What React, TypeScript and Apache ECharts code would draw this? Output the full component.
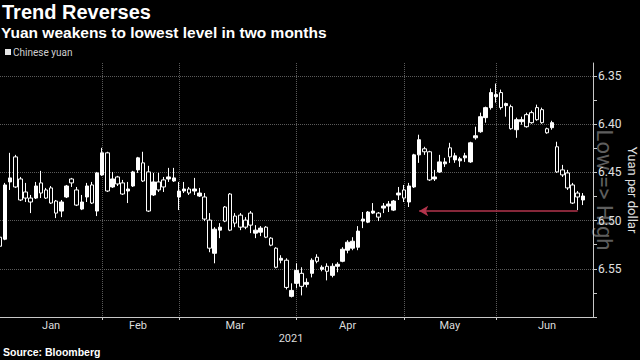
import React, { useEffect, useRef } from 'react';
import * as echarts from 'echarts';

// ---- data ----
const months = ['Jan', 'Feb', 'Mar', 'Apr', 'May', 'Jun'];
const slotsPerMonth = [20, 15, 23, 21, 18, 20];

// [open, close, low, high]
const janOHLC = [
  [6.5266, 6.5172, 6.5151, 6.5589], [6.4630, 6.5193, 6.4609, 6.5203], [6.4557, 6.4599, 6.4297, 6.4682],
  [6.4651, 6.4339, 6.4318, 6.4661], [6.4786, 6.4568, 6.4547, 6.4797], [6.4766, 6.4703, 6.4609, 6.4807],
  [6.4807, 6.4766, 6.4734, 6.4922], [6.4641, 6.4766, 6.4599, 6.4776], [6.4714, 6.4609, 6.4484, 6.4766],
  [6.4766, 6.4682, 6.4661, 6.4776], [6.4818, 6.4661, 6.4641, 6.4828], [6.4922, 6.4797, 6.4786, 6.4974],
  [6.4807, 6.4901, 6.4786, 6.4964], [6.4641, 6.4755, 6.4630, 6.4766], [6.4609, 6.4568, 6.4557, 6.4651],
  [6.4839, 6.4682, 6.4651, 6.4849], [6.4807, 6.4880, 6.4734, 6.4891], [6.4641, 6.4755, 6.4609, 6.4807],
  [6.4818, 6.4630, 6.4599, 6.4828], [6.4505, 6.4901, 6.4495, 6.4953],
];
const febOHLC = [
  [6.4297, 6.4526, 6.4245, 6.4536], [6.4693, 6.4297, 6.4286, 6.4703], [6.4568, 6.4651, 6.4495, 6.4661],
  [6.4620, 6.4547, 6.4536, 6.4641], [6.4724, 6.4609, 6.4578, 6.4734], [6.4672, 6.4693, 6.4599, 6.4818],
  [6.4495, 6.4641, 6.4484, 6.4651], [6.4349, 6.4474, 6.4339, 6.4505], [6.4589, 6.4401, 6.4286, 6.4599],
  [6.4901, 6.4495, 6.4432, 6.4911], [6.4599, 6.4734, 6.4505, 6.4745], [6.4682, 6.4599, 6.4505, 6.4703],
  [6.4651, 6.4578, 6.4547, 6.4703], [6.4547, 6.4568, 6.4453, 6.4599], [6.4557, 6.4589, 6.4453, 6.4599],
];
const marOHLC = [
  [6.4693, 6.4755, 6.4599, 6.4891], [6.4672, 6.4693, 6.4599, 6.4714], [6.4714, 6.4672, 6.4651, 6.4734],
  [6.4672, 6.4693, 6.4557, 6.4734], [6.4714, 6.4745, 6.4661, 6.4755], [6.4984, 6.4755, 6.4714, 6.5005],
  [6.5286, 6.4995, 6.4922, 6.5328], [6.5089, 6.5339, 6.5068, 6.5443], [6.5068, 6.5099, 6.5026, 6.5182],
  [6.5005, 6.4859, 6.4849, 6.5016], [6.5099, 6.4724, 6.4714, 6.5109], [6.5026, 6.4953, 6.4922, 6.5068],
  [6.5068, 6.4943, 6.4922, 6.5099], [6.5068, 6.4995, 6.4964, 6.5089], [6.5047, 6.4922, 6.4901, 6.5130],
  [6.5099, 6.5130, 6.5047, 6.5182], [6.5078, 6.5120, 6.5057, 6.5161], [6.5172, 6.5068, 6.5057, 6.5182],
  [6.5255, 6.5182, 6.5172, 6.5266], [6.5484, 6.5286, 6.5276, 6.5495], [6.5391, 6.5411, 6.5359, 6.5443],
  [6.5693, 6.5411, 6.5391, 6.5714], [6.5724, 6.5786, 6.5651, 6.5797],
];
const aprOHLC = [
  [6.5516, 6.5651, 6.5443, 6.5703], [6.5682, 6.5547, 6.5484, 6.5776], [6.5641, 6.5661, 6.5599, 6.5693],
  [6.5411, 6.5547, 6.5391, 6.5589], [6.5422, 6.5380, 6.5349, 6.5443], [6.5484, 6.5505, 6.5464, 6.5526],
  [6.5526, 6.5474, 6.5443, 6.5620], [6.5474, 6.5568, 6.5443, 6.5589], [6.5453, 6.5474, 6.5432, 6.5536],
  [6.5297, 6.5422, 6.5276, 6.5432], [6.5224, 6.5307, 6.5203, 6.5339], [6.5214, 6.5286, 6.5172, 6.5307],
  [6.5109, 6.5276, 6.5057, 6.5307], [6.4984, 6.5005, 6.4911, 6.5078], [6.4911, 6.5016, 6.4901, 6.5026],
  [6.4901, 6.4922, 6.4818, 6.4932], [6.4964, 6.4922, 6.4911, 6.5005], [6.4849, 6.4870, 6.4818, 6.4922],
  [6.4828, 6.4849, 6.4797, 6.4911], [6.4797, 6.4891, 6.4786, 6.4901], [6.4714, 6.4734, 6.4651, 6.4786],
];
const mayOHLC = [
  [6.4766, 6.4682, 6.4630, 6.4807], [6.4641, 6.4807, 6.4609, 6.4859], [6.4318, 6.4651, 6.4307, 6.4661],
  [6.4161, 6.4318, 6.4109, 6.4401], [6.4286, 6.4255, 6.4234, 6.4318], [6.4578, 6.4286, 6.4276, 6.4589],
  [6.4547, 6.4568, 6.4474, 6.4589], [6.4391, 6.4495, 6.4318, 6.4505], [6.4391, 6.4411, 6.4349, 6.4443],
  [6.4339, 6.4245, 6.4193, 6.4401], [6.4328, 6.4370, 6.4297, 6.4401], [6.4359, 6.4380, 6.4339, 6.4443],
  [6.4328, 6.4349, 6.4297, 6.4391], [6.4193, 6.4391, 6.4182, 6.4401], [6.4120, 6.4141, 6.4026, 6.4161],
  [6.3922, 6.4078, 6.3880, 6.4089], [6.3828, 6.3932, 6.3818, 6.3984], [6.3672, 6.3828, 6.3630, 6.3849],
];
const junOHLC = [
  [6.3693, 6.3714, 6.3578, 6.3776], [6.3828, 6.3672, 6.3641, 6.3849], [6.3786, 6.3807, 6.3776, 6.3922],
  [6.4047, 6.3818, 6.3797, 6.4057], [6.3953, 6.4057, 6.3932, 6.4141], [6.3953, 6.3974, 6.3922, 6.4005],
  [6.4026, 6.3901, 6.3880, 6.4036], [6.3984, 6.3880, 6.3859, 6.3995], [6.3953, 6.3828, 6.3797, 6.3964],
  [6.3984, 6.3849, 6.3828, 6.3995], [6.4089, 6.4047, 6.4036, 6.4099], [6.3984, 6.4036, 6.3964, 6.4057],
  [6.4495, 6.4234, 6.4182, 6.4505], [6.4526, 6.4474, 6.4422, 6.4547], [6.4661, 6.4505, 6.4474, 6.4682],
  [6.4818, 6.4630, 6.4609, 6.4828], [6.4755, 6.4714, 6.4693, 6.4891], [6.4745, 6.4786, 6.4714, 6.4839],
];

const yLabelValues = [6.35, 6.4, 6.45, 6.5, 6.55];
const yTickValues = [6.35, 6.375, 6.4, 6.425, 6.45, 6.475, 6.5, 6.525, 6.55, 6.575, 6.6];
const yMin = 6.3365;
const yMax = 6.6;
const arrowLevel = 6.49;
const arrowFromIdx = 113;
const arrowToIdx = 82;

// ---- derived ----
const categories: string[] = [];
const monthStarts: number[] = [];
const monthLabelIdx: Record<number, string> = {};
months.forEach((m, mi) => {
  monthStarts.push(categories.length);
  monthLabelIdx[categories.length + Math.floor(slotsPerMonth[mi] / 2)] = m;
  for (let k = 0; k < slotsPerMonth[mi]; k++) categories.push(`${m}-${k + 1}`);
});
const ohlc = [...janOHLC, ...febOHLC, ...marOHLC, ...aprOHLC, ...mayOHLC, ...junOHLC];

const isBoundary = (i: number) => i > 0 && monthStarts.indexOf(i) >= 0;

const option: any = {
  animation: false,
  backgroundColor: '#000',
  grid: { left: 0, right: 47, top: 63, bottom: 43 },
  xAxis: {
    type: 'category',
    data: categories,
    boundaryGap: false,
    axisLine: { show: true, lineStyle: { color: '#c8c8c8', width: 1 } },
    axisTick: { show: true, length: 3, interval: (i: number) => isBoundary(i), lineStyle: { color: '#c8c8c8' } },
    axisLabel: {
      interval: (i: number) => monthLabelIdx[i] !== undefined,
      formatter: (v: string) => v.split('-')[0],
      color: '#dcdcdc',
      fontFamily: 'Roboto',
      fontSize: 11,
      margin: 3,
    },
    splitLine: {
      show: true,
      interval: (i: number) => isBoundary(i),
      lineStyle: { color: '#5a5a5a', type: 'dotted', width: 1 },
    },
  },
  yAxis: {
    type: 'value',
    position: 'right',
    inverse: true,
    min: yMin,
    max: yMax,
    scale: true,
    axisLine: { show: true, lineStyle: { color: '#c8c8c8', width: 1 } },
    axisTick: { show: true, length: 4, customValues: yTickValues, lineStyle: { color: '#c8c8c8' } },
    axisLabel: {
      customValues: yLabelValues,
      formatter: (v: number) => v.toFixed(2),
      color: '#e0e0e0',
      fontFamily: 'Roboto',
      fontSize: 12,
      margin: 5,
    },
    splitLine: { show: false },
  },
  series: [
    {
      type: 'line',
      data: [],
      z: 1,
      silent: true,
      markLine: {
        silent: true,
        z: 1,
        symbol: ['none', 'none'],
        label: { show: false },
        lineStyle: { color: '#5a5a5a', type: 'dotted', width: 1 },
        data: yLabelValues.map((v) => ({ yAxis: v })),
      },
    },
    {
      type: 'candlestick',
      data: ohlc,
      z: 5,
      barWidth: 4,
      itemStyle: {
        color: '#ffffff',
        color0: '#000000',
        borderColor: '#ffffff',
        borderColor0: '#ffffff',
        borderWidth: 1,
      },
    },
    {
      type: 'line',
      data: [],
      z: 6,
      silent: true,
      markLine: {
        silent: true,
        z: 6,
        symbol: ['none', 'arrow'],
        symbolSize: [8, 9],
        label: { show: false },
        lineStyle: { color: '#b3344c', type: 'solid', width: 1.5 },
        data: [[
          { coord: [categories[arrowFromIdx], arrowLevel] },
          { coord: [categories[arrowToIdx], arrowLevel] },
        ]],
      },
    },
  ],
  graphic: [
    {
      type: 'text', x: 604, y: 190, rotation: -Math.PI / 2, z: -1,
      style: { text: 'Low => High', fill: '#5e5e5e', font: '22px Roboto', align: 'center', verticalAlign: 'middle' },
    },
    {
      type: 'text', x: 2, y: 12,
      style: { text: 'Trend Reverses', fill: '#ffffff', font: 'bold 20px "Liberation Sans"', align: 'left', verticalAlign: 'middle' },
    },
    {
      type: 'text', x: 1, y: 32,
      style: { text: 'Yuan weakens to lowest level in two months', fill: '#ffffff', font: 'bold 15.5px "Liberation Sans"', align: 'left', verticalAlign: 'middle' },
    },
    { type: 'rect', shape: { x: 5, y: 49, width: 6, height: 6 }, style: { fill: '#e6e6e6' } },
    {
      type: 'text', x: 13, y: 52.5,
      style: { text: 'Chinese yuan', fill: '#cfcfcf', font: '10px Roboto', align: 'left', verticalAlign: 'middle' },
    },
    {
      type: 'text', x: 291, y: 338,
      style: { text: '2021', fill: '#dcdcdc', font: '11px Roboto', align: 'center', verticalAlign: 'middle' },
    },
    {
      type: 'text', x: 3, y: 352,
      style: { text: 'Source: Bloomberg', fill: '#ffffff', font: 'bold 10.5px "Liberation Sans"', align: 'left', verticalAlign: 'middle' },
    },
    {
      type: 'text', x: 632, y: 190, rotation: -Math.PI / 2,
      style: { text: 'Yuan per dollar', fill: '#e0e0e0', font: '13px Roboto', align: 'center', verticalAlign: 'middle' },
    },
  ],
};

export default function App() {
  const ref = useRef<HTMLDivElement>(null);
  useEffect(() => {
    const chart = echarts.init(ref.current as HTMLDivElement, null, { renderer: 'svg' });
    chart.setOption(option);
    return () => chart.dispose();
  }, []);
  return (
    <div
      ref={ref}
      style={{ position: 'fixed', left: 0, top: 0, width: 640, height: 360, background: '#000' }}
    />
  );
}
